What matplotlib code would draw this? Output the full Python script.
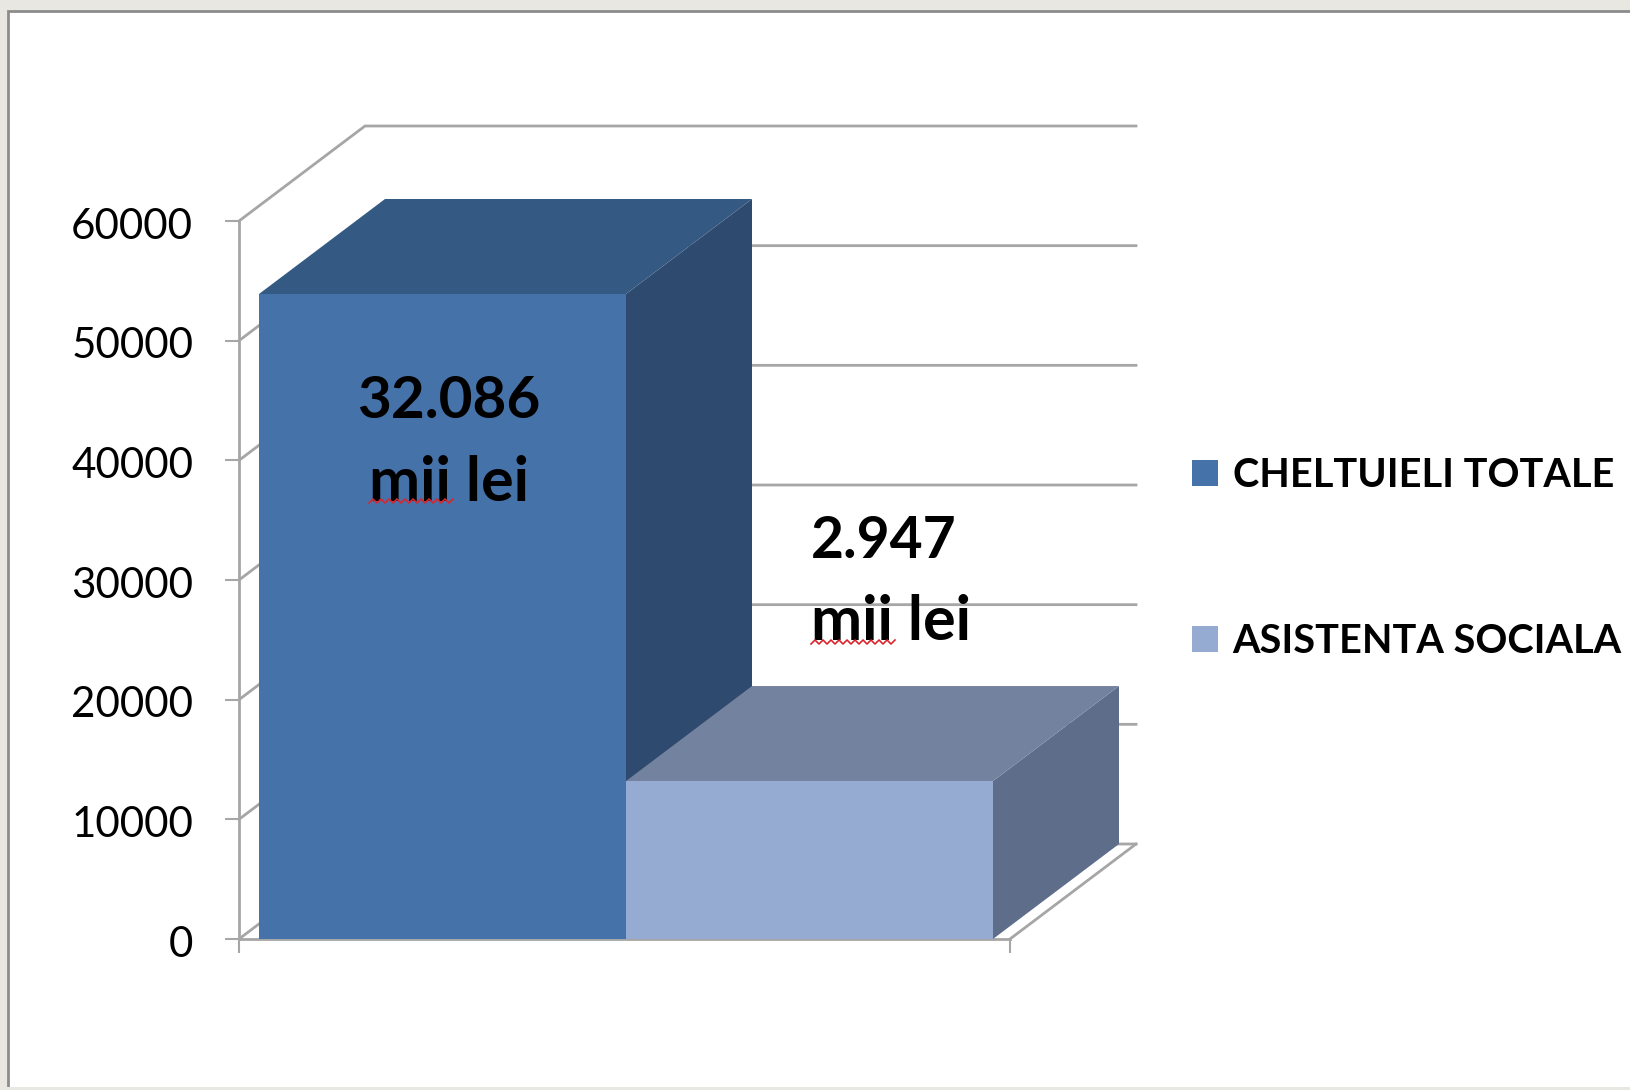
import numpy as np
import matplotlib
matplotlib.use("Agg")
import matplotlib.pyplot as plt
from matplotlib.patches import Polygon, Rectangle
from matplotlib.transforms import ScaledTranslation

W, H = 1630, 1090

# data
series = ["CHELTUIELI TOTALE", "ASISTENTA SOCIALA"]
values = [53900, 13200]
value_labels = ["32.086\nmii lei", "2.947\nmii lei"]
yticks = [0, 10000, 20000, 30000, 40000, 50000, 60000]

# colours: front, top, side
front = ["#4672AA", "#95ABD2"]
top = ["#345A83", "#72829F"]
side = ["#2E4A6E", "#5E6E8A"]
grid = "#a6a6a6"
paper = "#e9e7e1"

plt.rcParams["font.family"] = ["Lato", "DejaVu Sans"]

fig = plt.figure(figsize=(W / 100, H / 100), dpi=100, facecolor=paper)

# white slide area with grey border, open at the right and bottom
fig.add_artist(Rectangle((8 / W, -20 / H), 1640 / W, (H + 20 - 11) / H, transform=fig.transFigure,
                         facecolor="white", edgecolor="#8c8c8c", lw=2, zorder=-2))
fig.add_artist(Rectangle((0, 0), 1, 3 / H, transform=fig.transFigure,
                         facecolor=paper, edgecolor="none", zorder=-1))

# front plane of the chart, in pixels of the picture
left, right, bottom, upper = 239, 1010, 939, 221
ax = fig.add_axes([left / W, 1 - bottom / H, (right - left) / W, (bottom - upper) / H])
ax.patch.set_alpha(0)
ax.set_xlim(0, 1)
ax.set_ylim(0, 60000)

# oblique depth in data units
dx = 126 / (right - left)
dy = 95 / (bottom - upper) * 60000

for v in yticks:
    ax.plot([0, dx, 1 + dx], [v, v + dy, v + dy], color=grid, lw=2, clip_on=False, zorder=1,
            solid_joinstyle="miter")
ax.plot([1, 1 + dx], [0, dy], color=grid, lw=2, clip_on=False, zorder=1)

bar_w = 367 / (right - left)
gap = 20 / (right - left)
xpos = [gap + bar_w / 2, gap + bar_w * 1.5]

bars = []
for i in range(2):
    x0 = xpos[i] - bar_w / 2
    x1 = xpos[i] + bar_w / 2
    v = values[i]
    z = 2 + i
    ax.add_patch(Polygon([(x1, 0), (x1 + dx, dy), (x1 + dx, v + dy), (x1, v)], closed=True,
                         facecolor=side[i], edgecolor="none", clip_on=False, zorder=z))
    ax.add_patch(Polygon([(x0, v), (x0 + dx, v + dy), (x1 + dx, v + dy), (x1, v)], closed=True,
                         facecolor=top[i], edgecolor="none", clip_on=False, zorder=z))
    b = ax.bar(xpos[i], v, bar_w, color=front[i], label=series[i], zorder=z, clip_on=False)
    bars.append(b)

for s in ["top", "right"]:
    ax.spines[s].set_visible(False)
for s in ["left", "bottom"]:
    ax.spines[s].set_color(grid)
    ax.spines[s].set_linewidth(2)
    ax.spines[s].set_zorder(1)

ax.set_yticks(yticks)
ax.set_xticks([0, 1])
ax.set_xticklabels([])
ax.tick_params(axis="y", length=10, width=1.5, color=grid, labelsize=30.3, pad=23)
ax.tick_params(axis="x", length=10, width=1.5, color=grid)

# tick labels sit a little under their ticks in the reference
shift = ScaledTranslation(0, -2.2 / 100, fig.dpi_scale_trans)
for lab in ax.get_yticklabels():
    lab.set_transform(lab.get_transform() + shift)

# value labels
ax.text(xpos[0] + 0.008, values[0] - 9000, value_labels[0].split("\n")[0], ha="center", va="center",
        fontsize=42, fontweight="bold", zorder=6)
ax.text(xpos[0] + 0.008, values[0] - 15800, value_labels[0].split("\n")[1], ha="center", va="center",
        fontsize=44, fontweight="bold", zorder=6)
ax.text(0.7415, 33250, value_labels[1].split("\n")[0], ha="left", va="center",
        fontsize=41, fontweight="bold", zorder=6)
ax.text(0.7415, 26500, value_labels[1].split("\n")[1], ha="left", va="center",
        fontsize=44, fontweight="bold", zorder=6)

# red spell check squiggles under "mii"
for sx, sy in [(369, 501), (811, 642)]:
    xs = sx + np.arange(0, 88, 4)
    ys = sy + np.where(np.arange(len(xs)) % 2 == 0, 2, -2)
    fig.add_artist(plt.Line2D(xs / W, 1 - ys / H, color="#d8262c", lw=1.2, zorder=10))

ax.legend(handles=[b[0] for b in bars], labels=series, loc="upper left",
          bbox_to_anchor=(1180 / W, 1 - 445 / H), bbox_transform=fig.transFigure,
          frameon=False, handlelength=0.66, handleheight=0.66, handletextpad=0.37,
          labelspacing=3.26, prop={"size": 28.5, "weight": "bold"}, borderpad=0.3, borderaxespad=0)

fig.savefig("out.png", dpi=100, facecolor=fig.get_facecolor())
